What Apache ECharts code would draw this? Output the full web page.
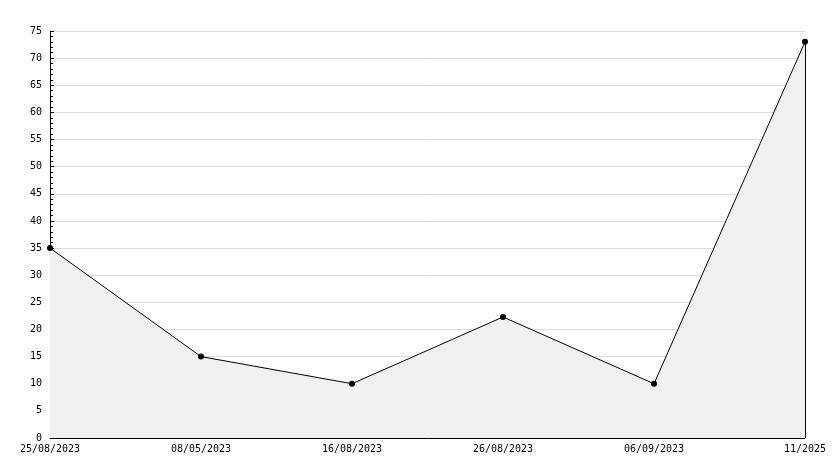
<!DOCTYPE html>
<html><head><meta charset="utf-8">
<script src="https://cdn.jsdelivr.net/npm/echarts@6/dist/echarts.min.js"></script>
<style>html,body{margin:0;padding:0;background:#fff}#c{width:834px;height:468px}</style>
</head><body><div id="c"></div>
<script>
const categories = ["25/08/2023","08/05/2023","16/08/2023","26/08/2023","06/09/2023","11/2025"];
const values = [35, 15, 10, 22.3, 10, 73];
const yMin = 0, yMax = 75, yStep = 5;

const chart = echarts.init(document.getElementById('c'), null, {renderer:'canvas'});
const font = '"DejaVu Sans Mono", monospace';
chart.setOption({
  animation:false,
  backgroundColor:'#ffffff',
  grid:{left:50, right:29, top:31, bottom:30, containLabel:false},
  xAxis:{
    type:'category', data:categories, boundaryGap:false,
    axisLine:{lineStyle:{color:'#000', width:1}},
    axisTick:{inside:true, length:5, lineStyle:{color:'#000'}},
    axisLabel:{color:'#000', fontFamily:font, fontSize:10, margin:6, showMaxLabel:true, showMinLabel:true},
    splitLine:{show:false}
  },
  yAxis:{
    type:'value', min:yMin, max:yMax, interval:yStep,
    axisLine:{show:true, lineStyle:{color:'#000', width:1}},
    axisTick:{show:true, inside:true, length:4, lineStyle:{color:'#000'}},
    minorTick:{show:true, splitNumber:5, length:3, lineStyle:{color:'#000'}},
    axisLabel:{color:'#000', fontFamily:font, fontSize:10, margin:8},
    splitLine:{show:true, lineStyle:{color:'#dcdcdc', width:1}}
  },
  series:[{
    type:'line', data:values,
    symbol:'circle', symbolSize:6,
    itemStyle:{color:'#000'},
    lineStyle:{color:'#000', width:1},
    areaStyle:{color:'#f0f0f0', opacity:1},
    z:3
  },{
    type:'line',
    data:[null,null,null,null,null,values[values.length-1]],
    symbol:'none',
    markLine:{symbol:'none', silent:true, label:{show:false},
      lineStyle:{color:'#000', type:'solid', width:1},
      data:[[{coord:[categories.length-1, yMin]},{coord:[categories.length-1, values[values.length-1]]}]]}
  }]
});
</script></body></html>
